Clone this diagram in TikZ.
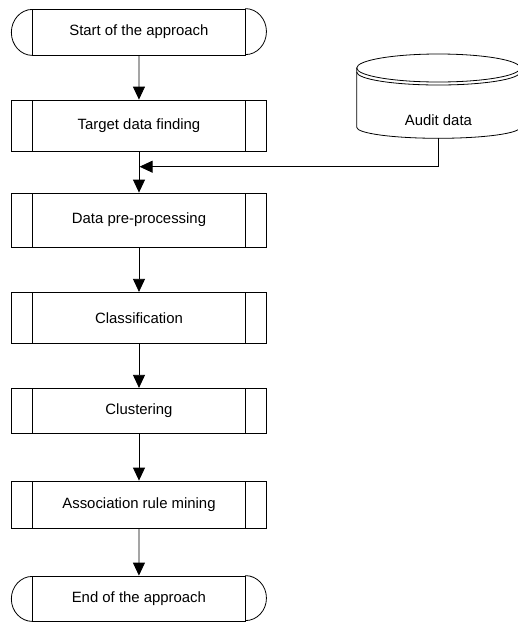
\documentclass[tikz,border=0pt]{standalone}
\usepackage{fontspec}
\setmainfont{Liberation Sans}
\usetikzlibrary{arrows.meta}
\begin{document}
\begin{tikzpicture}[x=1pt,y=-1pt,line width=0.8pt,
  every node/.style={font=\fontsize{14.9}{17}\selectfont,inner sep=0pt},
  procbox/.style={draw,minimum width=254.6pt,minimum height=#1,
    path picture={\draw
      ([xshift=21pt]path picture bounding box.north west) -- ([xshift=21pt]path picture bounding box.south west)
      ([xshift=-21pt]path picture bounding box.north east) -- ([xshift=-21pt]path picture bounding box.south east);}},
  termbox/.style={draw,minimum width=212.3pt,minimum height=#1},
  flow/.style={-{Triangle[width=12pt,length=13pt]}},
  termarcs/.style={x radius=21pt,y radius=#1}
]
\useasboundingbox (0,0) rectangle (518,622);

% terminators and process steps
\node[termbox=46pt] (start) at (138.9,32) {Start of the approach};
\draw (start.north east) arc[start angle=90,end angle=-90,termarcs=23pt];
\draw (start.south west) arc[start angle=-90,end angle=-270,termarcs=23pt];

\node[procbox=51pt] (target) at (139,125.5) {Target data finding};
\node[procbox=54pt] (prep) at (139,220) {Data pre-processing};
\node[procbox=51pt] (classif) at (139,317.8) {Classification};
\node[procbox=45pt] (cluster) at (139,410.8) {Clustering};
\node[procbox=47pt] (assoc) at (139,504.5) {Association rule mining};

\node[termbox=45pt] (end) at (138.9,598.5) {End of the approach};
\draw (end.north east) arc[start angle=90,end angle=-90,termarcs=22.5pt];
\draw (end.south west) arc[start angle=-90,end angle=-270,termarcs=22.5pt];

% stored data drum
\node (audit) at (438.4,120) {Audit data};
\draw (438.4,68) ellipse[x radius=81.7pt,y radius=14pt];
\draw (356.7,72) arc[start angle=180,end angle=360,x radius=81.7pt,y radius=13pt];
\draw (356.7,68) -- (356.7,127.3)
      arc[start angle=180,end angle=360,x radius=81.7pt,y radius=11pt] -- (520.1,68);
\coordinate (auditbot) at (438.4,138.3);
\coordinate (merge) at (139.6,166.7);

% connectors
\draw[flow] (start) -- (target);
\draw[flow] (target) -- (prep);
\draw[flow] (auditbot) |- (merge);
\draw[flow] (prep) -- (classif);
\draw[flow] (classif) -- (cluster);
\draw[flow] (cluster) -- (assoc);
\draw[flow] (assoc) -- (end);
\end{tikzpicture}
\end{document}
